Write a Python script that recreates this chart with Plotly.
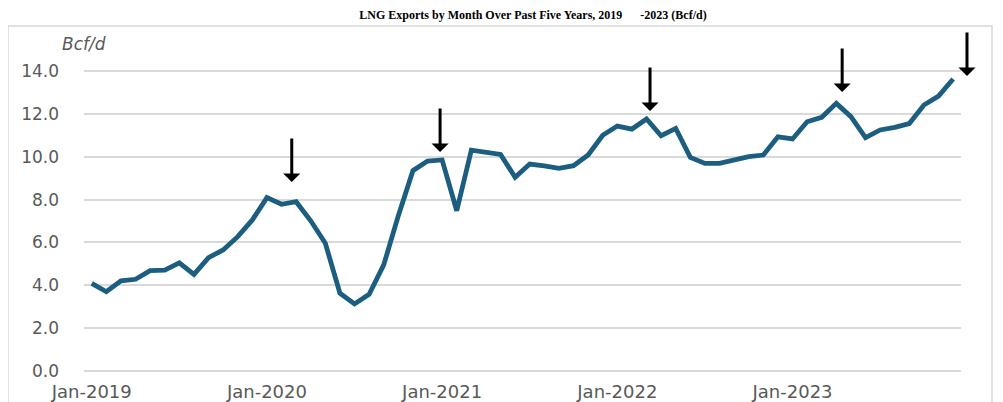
import plotly.graph_objects as go

# ---- data ----
month_names = ["Jan", "Feb", "Mar", "Apr", "May", "Jun", "Jul", "Aug", "Sep", "Oct", "Nov", "Dec"]
years = [2019, 2020, 2021, 2022, 2023]
exports_2019 = [4.09, 3.70, 4.21, 4.28, 4.68, 4.71, 5.05, 4.51, 5.29, 5.65, 6.27, 7.05]
exports_2020 = [8.09, 7.78, 7.90, 7.01, 5.96, 3.63, 3.13, 3.58, 4.95, 7.25, 9.35, 9.80]
exports_2021 = [9.85, 7.48, 10.31, 10.20, 10.11, 9.04, 9.66, 9.57, 9.46, 9.58, 10.08, 11.00]
exports_2022 = [11.43, 11.29, 11.76, 10.98, 11.32, 9.97, 9.69, 9.69, 9.85, 10.00, 10.08, 10.93]
exports_2023 = [10.83, 11.63, 11.84, 12.49, 11.87, 10.89, 11.25, 11.37, 11.55, 12.41, 12.83, 13.63]
tick_labels = ["Jan-2019", "Jan-2020", "Jan-2021", "Jan-2022", "Jan-2023"]
y_ticks = [0, 2, 4, 6, 8, 10, 12, 14]

# arrow annotations: (month position, value at arrow tip)
arrow_pos = [13.7, 23.86, 38.24, 51.4, 59.95]
arrow_tip = [8.82, 10.22, 12.13, 13.02, 13.77]

months = [f"{m}-{y}" for y in years for m in month_names]
exports = exports_2019 + exports_2020 + exports_2021 + exports_2022 + exports_2023
x = list(range(len(exports)))
tick_pos = [months.index(t) for t in tick_labels]

# ---- layout geometry (page has an 8px body offset) ----
OFF = 8
W, H = 1003 - OFF, 402 - OFF
L, R, T, B = 76, 42, 56, 26
PW, PH = W - L - R, H - T - B
XMIN, XMAX = -0.53, 59.54
YMIN, YMAX = -0.233, 14.327


def px(cx):
    return (cx - OFF - L) / PW


def py(cy):
    return (H - B - (cy - OFF)) / PH


fig = go.Figure()
fig.add_trace(go.Scatter(
    x=x, y=exports, mode="lines",
    line=dict(color="#1b5e7f", width=4.8),
    hoverinfo="skip", showlegend=False,
))

annotations = []
for p, t in zip(arrow_pos, arrow_tip):
    annotations.append(dict(
        x=(p - XMIN) / (XMAX - XMIN), xref="paper", y=t, yref="y",
        text="", showarrow=True, ax=0, ay=-45,
        arrowhead=1, arrowwidth=3, arrowsize=0.95, arrowcolor="#000000",
    ))
annotations.append(dict(
    x=px(60), xref="paper", y=py(44), yref="paper", text="<i>Bcf/d</i>",
    showarrow=False, xanchor="left", yanchor="middle",
    font=dict(family="DejaVu Sans", size=17, color="#595959"),
))

fig.update_layout(
    width=W, height=H,
    margin=dict(l=L, r=R, t=T, b=B, autoexpand=False),
    paper_bgcolor="white", plot_bgcolor="white",
    title=dict(
        text="<b>LNG Exports by Month Over Past Five Years, 2019\u00a0\u00a0\u00a0\u00a0\u00a0\u00a0-2023 (Bcf/d)</b>",
        x=px(533), xref="paper", xanchor="center", y=1 - (15 - OFF) / H, yanchor="middle",
        font=dict(family="Liberation Serif", size=12, color="#000000"),
    ),
    xaxis=dict(
        range=[XMIN, XMAX], tickvals=tick_pos, ticktext=tick_labels,
        showgrid=False, zeroline=False, showline=False, ticks="",
        ticklabelstandoff=3,
        tickfont=dict(family="DejaVu Sans", size=18, color="#595959"),
    ),
    yaxis=dict(
        range=[YMIN, YMAX], tickvals=y_ticks, tickformat=".1f",
        showgrid=True, gridcolor="#d9d9d9", gridwidth=1.5,
        zeroline=False, showline=False, ticks="",
        ticklabelstandoff=24,
        tickfont=dict(family="DejaVu Sans", size=17, color="#595959"),
    ),
    annotations=annotations,
    shapes=[dict(type="rect", xref="paper", yref="paper",
                 x0=px(8), x1=px(992), y0=py(440), y1=py(26),
                 line=dict(color="#d9d9d9", width=1.5), fillcolor="rgba(0,0,0,0)",
                 layer="below")],
)

fig.write_html("out.html")
